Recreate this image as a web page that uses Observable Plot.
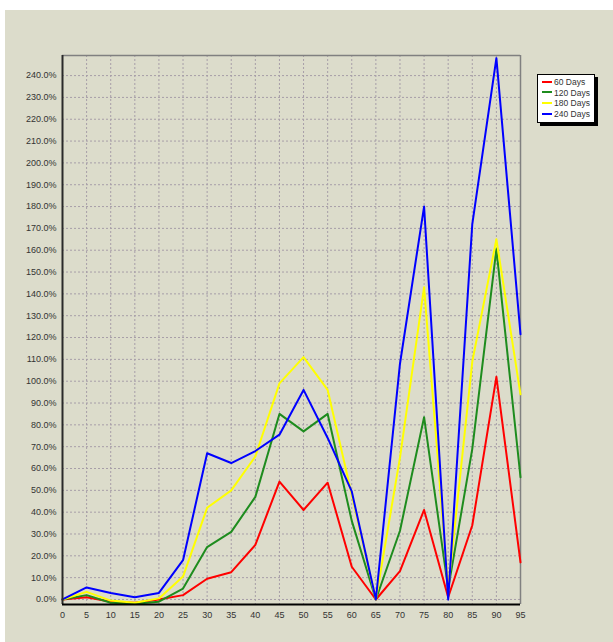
<!DOCTYPE html>
<html><head><meta charset="utf-8">
<script src="https://cdn.jsdelivr.net/npm/d3@7"></script>
<script src="https://cdn.jsdelivr.net/npm/@observablehq/plot@0.6"></script>
<style>
html,body{margin:0;padding:0;background:#fff;}
#wrap{position:absolute;left:5px;top:10px;width:608px;height:632px;background:#dcdccb;overflow:hidden;}
#legend{position:absolute;left:532px;top:64px;width:56px;height:45px;border:1px solid #000;background:#fff;box-shadow:3px 3px 0 #000;font-family:"Liberation Sans",Arial,sans-serif;font-size:8.5px;color:#333;padding-top:2px;}
.row{height:10.7px;line-height:10.7px;white-space:nowrap;position:relative;}
.sw{display:inline-block;width:10px;height:2px;vertical-align:middle;margin:0 2px 0 4px;position:relative;top:-1px;}
</style></head>
<body><div id="wrap"><div id="legend"></div></div>
<script>
const xs = [0,5,10,15,20,25,30,35,40,45,50,55,60,65,70,75,80,85,90,95];
const days60  = [0,1,-1,-1.5,0,2,9.5,12.5,25,54,41,53.5,15,0,13,41,1,34,102,17];
const days120 = [0,2,-1.5,-2,-1,5,24,31,47,85,77,85,36,0,31.5,83.5,5,69,160.5,56];
const days180 = [0,3.5,-0.5,-1.5,0.5,10.5,42,50,65.5,99,111,96,48,0,65,143,5,109,165,94];
const days240 = [0,5.5,3,1,3,18,67,62.5,68,75.5,96,74,49.5,0,108,180,0,172,248,121.5];
const seriesNames = ["60 Days","120 Days","180 Days","240 Days"];
const seriesColors = ["#ff0000","#1e8c1e","#ffff00","#0000ff"];
const seriesValues = [days60, days120, days180, days240];
const xTicks = xs;
const yTicks = d3.range(0, 241, 10);
const xDomain = [0, 95];
const yDomain = [-2.3, 249.2];

const gridXs = xs.filter(v => v > xDomain[0] && v < xDomain[1]);
const lineMarks = seriesValues.map((vals, i) =>
  Plot.line(xs.map((x, j) => ({x, y: vals[j]})), {x: "x", y: "y", stroke: seriesColors[i], strokeWidth: 2})
);

const chart = Plot.plot({
  width: 608, height: 632,
  marginLeft: 57, marginRight: 93, marginTop: 45, marginBottom: 38,
  x: {domain: xDomain},
  y: {domain: yDomain},
  style: {background: "transparent", fontFamily: "'Liberation Sans', Arial, sans-serif", fontSize: "9px", color: "#333"},
  marks: [
    Plot.ruleX(gridXs, {stroke: "#a79ea8", strokeDasharray: "2,2", strokeWidth: 1}),
    Plot.ruleY(yTicks, {stroke: "#a79ea8", strokeDasharray: "2,2", strokeWidth: 1}),
    Plot.ruleY([yDomain[1]], {stroke: "#808080", strokeWidth: 1.5}),
    Plot.ruleX([xDomain[1]], {stroke: "#808080", strokeWidth: 1.5}),
    ...lineMarks,
    Plot.ruleX([xDomain[0]], {stroke: "#2a2a2a", strokeWidth: 2}),
    Plot.ruleY([yDomain[0]], {stroke: "#000", strokeWidth: 2}),
    Plot.axisX({ticks: xTicks, tickFormat: d => d, tickSize: 0, tickPadding: 7, label: null, fontSize: 9, fill: "#333"}),
    Plot.axisY({ticks: yTicks, tickFormat: d => d.toFixed(1) + "%", tickSize: 0, tickPadding: 6, label: null, fontSize: 9, fill: "#333"})
  ]
});
document.getElementById("wrap").prepend(chart);

const legend = document.getElementById("legend");
seriesNames.forEach((n, i) => {
  const r = document.createElement("div");
  r.className = "row";
  r.innerHTML = `<span class="sw" style="background:${seriesColors[i]}"></span>${n}`;
  legend.appendChild(r);
});
</script>
</body></html>
